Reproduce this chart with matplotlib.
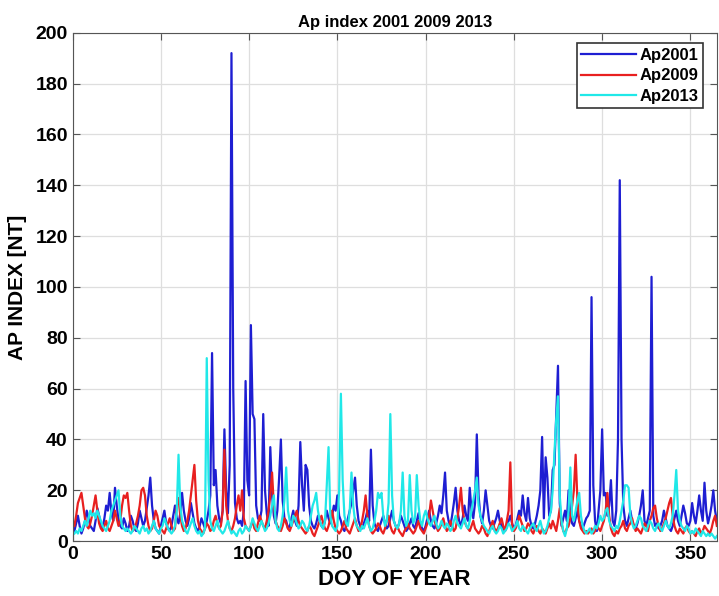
import numpy as np
import matplotlib
matplotlib.use('Agg')
import matplotlib.pyplot as plt

# Суточные индексы Ap по дням года (1..365)
ap2001 = [
    4, 7, 10, 6, 3, 5, 8, 12, 9, 6,
    5, 4, 8, 13, 10, 7, 5, 9, 14, 12,
    19, 11, 8, 21, 14, 8, 6, 5, 9, 7,
    4, 6, 10, 8, 5, 4, 7, 12, 9, 6,
    8, 13, 18, 25, 14, 8, 5, 4, 3, 6,
    9, 12, 7, 5, 4, 6, 10, 14, 9, 7,
    11, 19, 12, 8, 6, 9, 15, 11, 7, 5,
    4, 6, 9, 7, 5, 8, 12, 18, 74, 22,
    28, 14, 9, 7, 12, 44, 20, 11, 30, 192,
    60, 15, 9, 7, 8, 6, 12, 63, 24, 18,
    85, 50, 48, 14, 9, 8, 12, 50, 20, 11,
    6, 37, 18, 10, 7, 12, 25, 40, 16, 9,
    8, 5, 6, 9, 12, 8, 6, 14, 39, 22,
    12, 30, 28, 14, 8, 6, 5, 7, 10, 8,
    6, 5, 8, 12, 9, 7, 10, 14, 12, 18,
    10, 8, 5, 4, 6, 9, 12, 15, 20, 25,
    14, 8, 6, 5, 7, 9, 12, 8, 36, 14,
    7, 5, 4, 6, 8, 10, 7, 5, 6, 9,
    12, 8, 6, 5, 7, 10, 8, 6, 4, 5,
    7, 9, 6, 5, 8, 11, 7, 5, 4, 6,
    9, 12, 8, 6, 5, 7, 10, 14, 11, 18,
    27, 12, 8, 6, 10, 15, 21, 12, 8, 6,
    9, 14, 10, 8, 21, 12, 9, 15, 42, 18,
    10, 7, 12, 20, 14, 8, 6, 5, 7, 9,
    12, 8, 6, 5, 4, 6, 8, 10, 7, 5,
    6, 9, 12, 10, 18, 11, 8, 17, 9, 6,
    5, 7, 10, 14, 20, 41, 9, 33, 25, 10,
    12, 28, 30, 50, 69, 15, 6, 9, 12, 8,
    20, 10, 7, 6, 9, 12, 8, 6, 5, 7,
    9, 10, 12, 96, 22, 8, 4, 12, 20, 44,
    18, 19, 10, 14, 24, 8, 6, 12, 40, 142,
    40, 14, 8, 6, 9, 12, 8, 6, 5, 7,
    10, 14, 20, 8, 6, 9, 12, 104, 10, 6,
    7, 5, 6, 8, 12, 9, 6, 5, 4, 6,
    9, 12, 8, 6, 10, 14, 11, 7, 6, 8,
    15, 10, 7, 12, 18, 12, 8, 23, 12, 7,
    10, 14, 20, 12, 8,
]

ap2009 = [
    6, 10, 15, 17, 19, 14, 9, 6, 5, 7,
    10, 14, 18, 12, 7, 5, 4, 6, 8, 5,
    4, 6, 8, 12, 9, 6, 8, 14, 18, 17,
    19, 12, 6, 4, 5, 7, 10, 14, 20, 21,
    18, 10, 6, 4, 5, 8, 12, 10, 6, 5,
    4, 3, 5, 7, 9, 6, 4, 5, 14, 17,
    10, 6, 4, 5, 8, 12, 18, 24, 30, 16,
    8, 5, 4, 3, 5, 7, 6, 4, 5, 8,
    10, 7, 5, 6, 12, 36, 14, 8, 5, 4,
    6, 9, 14, 18, 12, 20, 9, 6, 5, 4,
    6, 8, 5, 4, 7, 10, 8, 6, 5, 8,
    12, 18, 27, 14, 8, 6, 5, 4, 6, 9,
    7, 5, 4, 6, 8, 10, 12, 8, 6, 5,
    4, 3, 4, 6, 5, 3, 2, 4, 6, 8,
    10, 7, 5, 4, 6, 9, 12, 8, 5, 4,
    3, 4, 6, 8, 5, 4, 3, 5, 7, 9,
    6, 4, 5, 8, 12, 18, 10, 6, 4, 3,
    4, 5, 7, 6, 4, 3, 5, 8, 10, 6,
    4, 3, 5, 6, 4, 3, 2, 4, 5, 7,
    5, 4, 3, 4, 6, 8, 5, 4, 3, 5,
    7, 10, 16, 12, 8, 6, 4, 5, 7, 9,
    6, 4, 5, 8, 6, 4, 5, 9, 14, 21,
    12, 8, 6, 5, 4, 6, 8, 5, 4, 3,
    4, 6, 5, 3, 2, 4, 6, 8, 5, 4,
    5, 7, 9, 6, 4, 8, 12, 31, 6, 4,
    5, 7, 10, 8, 6, 4, 5, 7, 6, 4,
    3, 5, 6, 4, 3, 5, 4, 3, 5, 7,
    5, 8, 6, 4, 8, 13, 7, 4, 3, 5,
    6, 9, 14, 20, 34, 16, 8, 5, 4, 3,
    4, 3, 4, 5, 3, 4, 6, 5, 4, 6,
    8, 12, 19, 10, 5, 3, 2, 4, 3, 5,
    6, 8, 5, 4, 6, 7, 9, 6, 4, 5,
    4, 3, 5, 7, 6, 4, 8, 10, 13, 14,
    9, 6, 4, 5, 7, 9, 12, 15, 17, 10,
    6, 4, 3, 5, 4, 3, 5, 6, 4, 3,
    4, 3, 2, 4, 5, 3, 4, 6, 5, 4,
    3, 5, 8, 10, 6,
]

ap2013 = [
    3, 4, 3, 5, 4, 6, 8, 6, 9, 12,
    10, 11, 9, 12, 10, 8, 6, 5, 4, 6,
    8, 12, 14, 16, 18, 20, 10, 6, 5, 4,
    5, 4, 3, 4, 6, 5, 4, 3, 5, 6,
    4, 5, 3, 4, 6, 8, 5, 4, 3, 5,
    6, 9, 7, 5, 4, 3, 4, 6, 12, 34,
    14, 8, 6, 4, 3, 5, 7, 9, 6, 4,
    3, 4, 2, 3, 5, 72, 24, 8, 5, 4,
    6, 8, 5, 4, 3, 4, 6, 8, 5, 3,
    4, 3, 2, 4, 5, 3, 4, 6, 5, 4,
    6, 9, 7, 5, 4, 6, 8, 6, 4, 5,
    7, 10, 14, 18, 8, 5, 4, 6, 10, 16,
    29, 12, 8, 6, 10, 9, 7, 5, 6, 8,
    7, 5, 4, 6, 10, 14, 16, 19, 12, 8,
    6, 5, 8, 22, 37, 10, 6, 5, 4, 6,
    20, 58, 24, 10, 7, 6, 12, 27, 14, 8,
    6, 5, 4, 6, 5, 7, 9, 6, 4, 5,
    8, 12, 19, 17, 19, 10, 6, 8, 15, 50,
    18, 8, 6, 5, 7, 12, 27, 10, 6, 8,
    26, 12, 7, 9, 26, 14, 8, 6, 10, 12,
    9, 7, 6, 8, 10, 7, 5, 6, 8, 6,
    5, 7, 6, 4, 5, 8, 10, 7, 6, 5,
    7, 9, 6, 5, 8, 12, 16, 20, 25, 14,
    10, 8, 6, 5, 4, 3, 5, 6, 4, 3,
    4, 6, 5, 3, 4, 5, 7, 6, 4, 5,
    6, 8, 5, 4, 6, 5, 4, 3, 5, 6,
    7, 5, 4, 6, 8, 5, 3, 4, 6, 9,
    12, 20, 35, 48, 57, 18, 8, 4, 2, 5,
    12, 29, 10, 8, 12, 16, 19, 10, 6, 4,
    3, 4, 5, 3, 4, 6, 5, 7, 10, 8,
    9, 12, 13, 8, 6, 5, 4, 6, 5, 8,
    12, 16, 22, 22, 21, 10, 7, 5, 6, 8,
    10, 9, 6, 5, 4, 6, 8, 7, 5, 4,
    6, 7, 5, 4, 6, 8, 6, 5, 7, 10,
    18, 28, 12, 8, 6, 5, 4, 6, 5, 3,
    4, 3, 5, 4, 3, 2, 4, 3, 2, 3,
    2, 3, 2, 1, 2,
]

doy = np.arange(1, len(ap2001) + 1)

plt.rcParams['font.family'] = ['Liberation Sans', 'DejaVu Sans']
plt.rcParams['font.weight'] = 'bold'

fig = plt.figure(figsize=(7.19, 5.96), dpi=100)
ax = fig.add_axes([0.101, 0.092, 0.896, 0.853])

ax.plot(doy, ap2001, color='#1e1ed2', lw=1.6, label='Ap2001')
ax.plot(doy, ap2009, color='#e82020', lw=1.6, label='Ap2009')
ax.plot(doy, ap2013, color='#20e8e8', lw=1.6, label='Ap2013')

ax.set_xlim(0, 365)
ax.set_ylim(0, 200)
ax.set_xticks(np.arange(0, 351, 50))
ax.set_yticks(np.arange(0, 201, 20))
ax.grid(True, color='#dedede', lw=0.9)
ax.set_axisbelow(True)
ax.tick_params(direction='in', top=True, right=True, labelsize=14, length=5,
               color='#555555')
for lab in ax.get_xticklabels() + ax.get_yticklabels():
    lab.set_fontweight('bold')
for s in ax.spines.values():
    s.set_color('#555555')

ax.set_xlabel('DOY OF YEAR', fontsize=16, fontweight='bold', labelpad=4)
ax.set_ylabel('AP INDEX [NT]', fontsize=15, fontweight='bold', labelpad=6)
ax.set_title('Ap index 2001 2009 2013', fontsize=12, fontweight='bold', pad=4)

leg = ax.legend(loc='upper right', fontsize=12, handlelength=3.3,
                fancybox=False, framealpha=1, edgecolor='#333333',
                borderpad=0.25, labelspacing=0.35, handletextpad=0.2,
                borderaxespad=0, bbox_to_anchor=(0.978, 0.979))
for t in leg.get_texts():
    t.set_fontweight('bold')
leg.get_frame().set_linewidth(1.2)

fig.savefig('out.png', dpi=100)
